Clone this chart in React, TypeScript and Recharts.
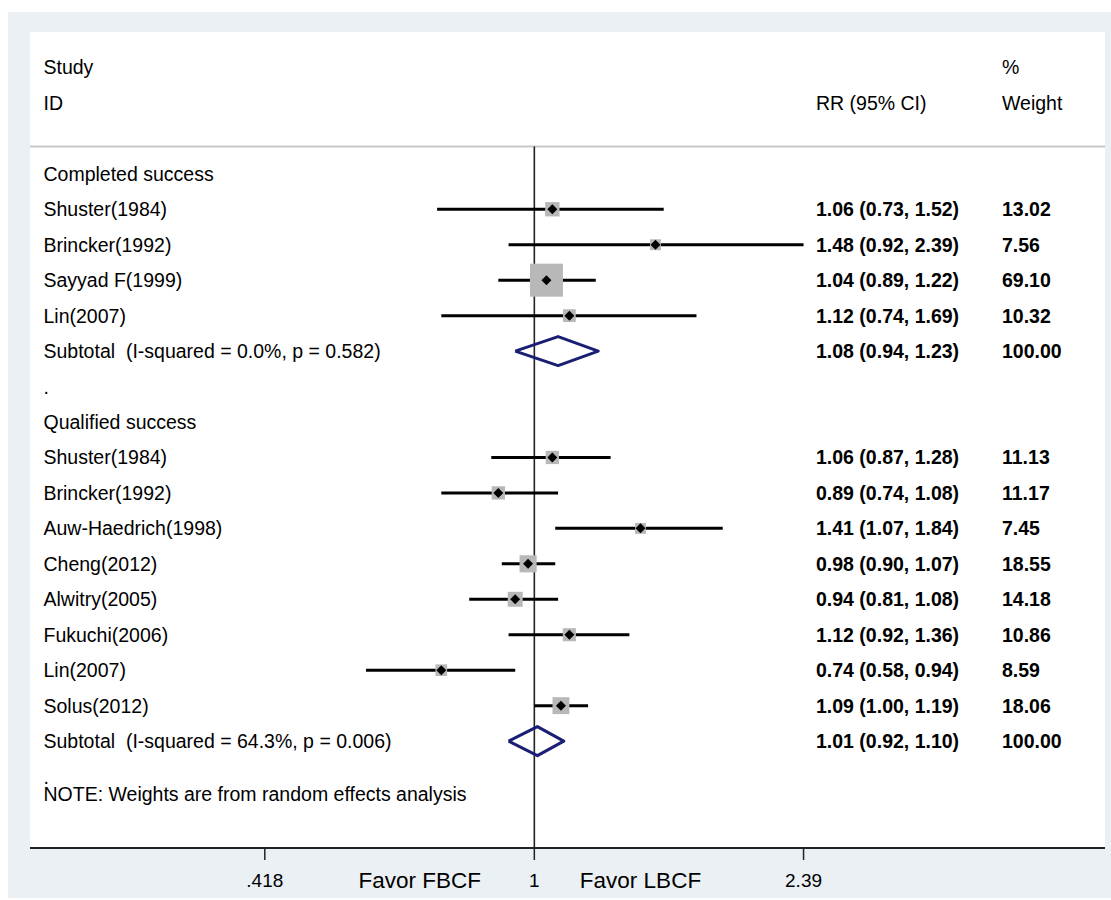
import {
  ComposedChart,
  Scatter,
  XAxis,
  YAxis,
  ErrorBar,
  ReferenceLine,
  CartesianGrid,
} from 'recharts';

// ---- data ----
const completedStudies = ['Shuster(1984)', 'Brincker(1992)', 'Sayyad F(1999)', 'Lin(2007)'];
const completedRR = [1.06, 1.48, 1.04, 1.12];
const completedLow = [0.73, 0.92, 0.89, 0.74];
const completedHigh = [1.52, 2.39, 1.22, 1.69];
const completedWeight = [13.02, 7.56, 69.1, 10.32];
const completedSubtotal = [1.08, 0.94, 1.23];
const completedHet = 'Subtotal  (I-squared = 0.0%, p = 0.582)';

const qualifiedStudies = [
  'Shuster(1984)',
  'Brincker(1992)',
  'Auw-Haedrich(1998)',
  'Cheng(2012)',
  'Alwitry(2005)',
  'Fukuchi(2006)',
  'Lin(2007)',
  'Solus(2012)',
];
const qualifiedRR = [1.06, 0.89, 1.41, 0.98, 0.94, 1.12, 0.74, 1.09];
const qualifiedLow = [0.87, 0.74, 1.07, 0.9, 0.81, 0.92, 0.58, 1.0];
const qualifiedHigh = [1.28, 1.08, 1.84, 1.07, 1.08, 1.36, 0.94, 1.19];
const qualifiedWeight = [11.13, 11.17, 7.45, 18.55, 14.18, 10.86, 8.59, 18.06];
const qualifiedSubtotal = [1.01, 0.92, 1.1];
const qualifiedHet = 'Subtotal  (I-squared = 64.3%, p = 0.006)';

const groupTitles = ['Completed success', 'Qualified success'];
const headerLabels = ['Study', 'ID'];
const headerStats = ['', 'RR (95% CI)'];
const headerWeights = ['%', 'Weight'];
const noteText = 'NOTE: Weights are from random effects analysis';

const xTicks = [0.418, 1, 2.39];
const xTickLabels = ['.418', '1', '2.39'];
const favourAt = [0.69, 1.41];
const favourLabels = ['Favor FBCF', 'Favor LBCF'];

// ---- layout ----
const FONT = '"Liberation Sans", Arial, Helvetica, sans-serif';
const X_DOMAIN: [number, number] = [0.1955, 6.34];
const Y_DOMAIN: [number, number] = [-4, 19.015];
const SEP_ROW = -0.77;
const COL_LABEL = 35.5;
const COL_STAT = 808;
const COL_WEIGHT = 994;
const DIAMOND_H = 0.41;
const BOX_K = 3.97;

interface Row {
  r: number;
  label: string;
  stat: string;
  weight: string;
  boldStat: boolean;
}

interface Pt {
  x: number;
  y: number;
  err: [number, number];
  w: number;
}

const f2 = (n: number) => n.toFixed(2);
const ci = (a: number, b: number, c: number) => `${f2(a)} (${f2(b)}, ${f2(c)})`;

const rows: Row[] = [];
const points: Pt[] = [];
const diamonds: { x: number; y: number }[][] = [];

headerLabels.forEach((l, i) =>
  rows.push({ r: -3 + i, label: l, stat: headerStats[i], weight: headerWeights[i], boldStat: false })
);

function addGroup(
  start: number,
  title: string,
  names: string[],
  rr: number[],
  lo: number[],
  hi: number[],
  wt: number[],
  sub: number[],
  het: string
) {
  rows.push({ r: start, label: title, stat: '', weight: '', boldStat: false });
  names.forEach((n, i) => {
    const r = start + 1 + i;
    rows.push({ r, label: n, stat: ci(rr[i], lo[i], hi[i]), weight: f2(wt[i]), boldStat: true });
    points.push({ x: rr[i], y: r, err: [rr[i] - lo[i], hi[i] - rr[i]], w: wt[i] });
  });
  const sr = start + 1 + names.length;
  rows.push({ r: sr, label: het, stat: ci(sub[0], sub[1], sub[2]), weight: '100.00', boldStat: true });
  rows.push({ r: sr + 1, label: '.', stat: '', weight: '', boldStat: false });
  diamonds.push([
    { x: sub[1], y: sr },
    { x: sub[0], y: sr - DIAMOND_H },
    { x: sub[2], y: sr },
    { x: sub[0], y: sr + DIAMOND_H },
    { x: sub[1], y: sr },
  ]);
  return sr + 2;
}

const next = addGroup(0, groupTitles[0], completedStudies, completedRR, completedLow, completedHigh, completedWeight, completedSubtotal, completedHet);
addGroup(next, groupTitles[1], qualifiedStudies, qualifiedRR, qualifiedLow, qualifiedHigh, qualifiedWeight, qualifiedSubtotal, qualifiedHet);
rows.push({ r: 17.5, label: noteText, stat: '', weight: '', boldStat: false });

const rowTicks = rows.map((r) => r.r);

function RowTick(props: any) {
  const { y, payload } = props;
  const row = rows.find((r) => r.r === payload.value);
  if (!row) return <g />;
  return (
    <g fontFamily={FONT} fontSize={19.5} fill="#000">
      <text x={COL_LABEL} y={y} dominantBaseline="central" xmlSpace="preserve" style={{ whiteSpace: 'pre' }}>
        {row.label}
      </text>
      {row.stat && (
        <text x={COL_STAT} y={y} dominantBaseline="central" fontWeight={row.boldStat ? 700 : 400}>
          {row.stat}
        </text>
      )}
      {row.weight && (
        <text x={COL_WEIGHT} y={y} dominantBaseline="central" fontWeight={row.boldStat ? 700 : 400}>
          {row.weight}
        </text>
      )}
    </g>
  );
}

function AxisTick(props: any) {
  const { x, y, payload } = props;
  const i = xTicks.indexOf(payload.value);
  if (i >= 0) {
    return (
      <g>
        <line x1={x} x2={x} y1={y - 12} y2={y} stroke="#222" strokeWidth={1.5} />
        <text x={x} y={y + 20} textAnchor="middle" dominantBaseline="central" fontFamily={FONT} fontSize={19} fill="#000">
          {xTickLabels[i]}
        </text>
      </g>
    );
  }
  const j = favourAt.indexOf(payload.value);
  if (j >= 0) {
    return (
      <text x={x} y={y + 20} textAnchor="middle" dominantBaseline="central" fontFamily={FONT} fontSize={22.5} fill="#000">
        {favourLabels[j]}
      </text>
    );
  }
  return <g />;
}

function BoxShape(props: any) {
  const { cx, cy, payload } = props;
  const s = BOX_K * Math.sqrt(payload.w);
  return <rect x={cx - s / 2} y={cy - s / 2} width={s} height={s} fill="#B8B8B8" />;
}

function DotShape(props: any) {
  const { cx, cy } = props;
  const d = 5;
  return <polygon points={`${cx - d},${cy} ${cx},${cy - d} ${cx + d},${cy} ${cx},${cy + d}`} fill="#000" />;
}

const NoShape = () => <g />;

export default function App() {
  return (
    <div style={{ position: 'absolute', left: 8, top: 12, width: 1103, height: 886, background: '#EAF0F3' }}>
      <ComposedChart width={1103} height={886} margin={{ top: 20, right: 6, bottom: 0, left: 21 }}>
        <CartesianGrid fill="#FFFFFF" fillOpacity={1} stroke="none" horizontal={false} vertical={false} />
        <XAxis
          type="number"
          dataKey="x"
          scale="log"
          domain={X_DOMAIN}
          allowDataOverflow
          ticks={[...xTicks, ...favourAt]}
          interval={0}
          tick={<AxisTick />}
          tickLine={false}
          tickSize={12}
          tickMargin={0}
          height={50}
          axisLine={false}
        />
        <YAxis
          type="number"
          dataKey="y"
          domain={Y_DOMAIN}
          reversed
          allowDataOverflow
          ticks={rowTicks}
          interval={0}
          tick={<RowTick />}
          width={1}
          axisLine={false}
          tickLine={false}
        />
        <ReferenceLine y={SEP_ROW} stroke="#C8C8C8" strokeWidth={2} />
        <ReferenceLine
          segment={[
            { x: 1, y: SEP_ROW },
            { x: 1, y: Y_DOMAIN[1] },
          ]}
          stroke="#222"
          strokeWidth={1.6}
        />
        <ReferenceLine y={Y_DOMAIN[1]} stroke="#222" strokeWidth={2} />
        <Scatter data={points} shape={<BoxShape />} isAnimationActive={false} />
        <Scatter data={points} shape={<DotShape />} isAnimationActive={false}>
          <ErrorBar dataKey="err" direction="x" width={0} stroke="#000" strokeWidth={3} isAnimationActive={false} />
        </Scatter>
        {diamonds.map((d, i) => (
          <Scatter
            key={i}
            data={d}
            shape={<NoShape />}
            line={{ stroke: '#1A1F74', strokeWidth: 3, strokeLinejoin: 'round' }}
            isAnimationActive={false}
          />
        ))}
      </ComposedChart>
    </div>
  );
}
